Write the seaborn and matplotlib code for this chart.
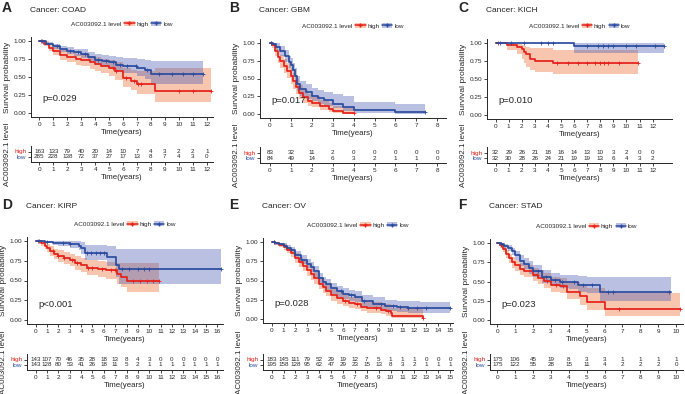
import numpy as np
import pandas as pd
import seaborn as sns
import matplotlib
matplotlib.use("Agg")
import matplotlib.pyplot as plt
from matplotlib.patches import Patch
from matplotlib.lines import Line2D
from matplotlib.transforms import blended_transform_factory

# Kaplan-Meier steps: (time, survival, lower CI, upper CI)
COAD_HIGH = [(0, 1.0, 1.0, 1.0), (0.3, 0.96, 0.93, 0.99), (0.7, 0.90, 0.86, 0.95),
             (1.0, 0.86, 0.80, 0.91), (1.5, 0.80, 0.74, 0.87), (2.0, 0.77, 0.70, 0.84),
             (2.6, 0.75, 0.67, 0.82), (3.0, 0.73, 0.65, 0.81), (3.6, 0.70, 0.61, 0.79),
             (4.0, 0.68, 0.58, 0.77), (4.4, 0.65, 0.55, 0.75), (5.0, 0.62, 0.51, 0.73),
             (5.4, 0.58, 0.46, 0.70), (6.0, 0.48, 0.36, 0.62), (6.6, 0.45, 0.32, 0.60),
             (7.0, 0.41, 0.27, 0.58), (8.3, 0.31, 0.15, 0.63), (12.3, 0.31, 0.15, 0.63)]
COAD_LOW = [(0, 1.0, 1.0, 1.0), (0.5, 0.96, 0.94, 0.98), (1.0, 0.92, 0.89, 0.95),
            (1.5, 0.89, 0.85, 0.93), (2.0, 0.86, 0.82, 0.91), (2.5, 0.84, 0.79, 0.89),
            (3.0, 0.82, 0.76, 0.88), (3.5, 0.78, 0.72, 0.85), (4.0, 0.74, 0.67, 0.82),
            (4.5, 0.72, 0.64, 0.80), (5.0, 0.70, 0.62, 0.79), (5.5, 0.67, 0.58, 0.77),
            (6.0, 0.65, 0.55, 0.76), (7.0, 0.63, 0.52, 0.75), (7.6, 0.59, 0.47, 0.73),
            (8.0, 0.54, 0.40, 0.72), (11.7, 0.54, 0.40, 0.72)]
GBM_HIGH = [(0, 1.0, 1.0, 1.0), (0.1, 0.96, 0.92, 1.0), (0.25, 0.88, 0.82, 0.95),
            (0.4, 0.80, 0.72, 0.88), (0.5, 0.74, 0.65, 0.83), (0.65, 0.67, 0.58, 0.77),
            (0.8, 0.61, 0.51, 0.71), (1.0, 0.53, 0.43, 0.64), (1.1, 0.46, 0.36, 0.57),
            (1.25, 0.38, 0.29, 0.49), (1.4, 0.30, 0.21, 0.41), (1.6, 0.24, 0.16, 0.34),
            (1.8, 0.19, 0.12, 0.29), (2.0, 0.16, 0.10, 0.25), (2.4, 0.12, 0.06, 0.20),
            (2.8, 0.08, 0.03, 0.16), (3.0, 0.05, 0.02, 0.12), (3.5, 0.025, 0.0, 0.09),
            (4.0, 0.025, 0.0, 0.09)]
GBM_LOW = [(0, 1.0, 1.0, 1.0), (0.15, 0.98, 0.95, 1.0), (0.3, 0.94, 0.89, 0.99),
           (0.5, 0.88, 0.82, 0.95), (0.7, 0.81, 0.73, 0.89), (0.9, 0.73, 0.64, 0.82),
           (1.0, 0.69, 0.60, 0.79), (1.1, 0.62, 0.52, 0.72), (1.2, 0.53, 0.43, 0.64),
           (1.3, 0.42, 0.32, 0.53), (1.45, 0.36, 0.26, 0.47), (1.7, 0.31, 0.22, 0.42),
           (2.0, 0.26, 0.18, 0.37), (2.3, 0.23, 0.15, 0.34), (2.6, 0.20, 0.12, 0.31),
           (3.0, 0.15, 0.09, 0.28), (3.5, 0.11, 0.05, 0.25), (4.0, 0.06, 0.02, 0.17),
           (6.0, 0.03, 0.0, 0.15), (7.4, 0.03, 0.0, 0.15)]
KICH_HIGH = [(0, 1.0, 1.0, 1.0), (0.9, 0.97, 0.90, 1.0), (1.6, 0.94, 0.84, 1.0),
             (2.0, 0.91, 0.78, 0.97), (2.2, 0.875, 0.72, 0.96), (2.35, 0.84, 0.67, 0.94),
             (2.6, 0.78, 0.63, 0.92), (3.0, 0.75, 0.60, 0.92), (4.4, 0.72, 0.57, 0.90),
             (10.9, 0.72, 0.57, 0.90)]
KICH_LOW = [(0, 1.0, 1.0, 1.0), (6.0, 0.95, 0.855, 0.99), (12.9, 0.95, 0.855, 0.99)]
KIRP_HIGH = [(0, 1.0, 1.0, 1.0), (0.5, 0.97, 0.94, 1.0), (0.8, 0.94, 0.90, 0.98),
             (1.0, 0.91, 0.86, 0.96), (1.3, 0.87, 0.81, 0.93), (1.6, 0.84, 0.77, 0.90),
             (2.0, 0.81, 0.74, 0.88), (2.5, 0.78, 0.71, 0.86), (3.0, 0.76, 0.68, 0.84),
             (3.5, 0.72, 0.63, 0.81), (4.0, 0.70, 0.61, 0.79), (4.5, 0.66, 0.57, 0.76),
             (5.5, 0.64, 0.54, 0.75), (6.2, 0.63, 0.52, 0.74), (7.2, 0.58, 0.46, 0.72),
             (7.5, 0.55, 0.42, 0.72), (8.0, 0.50, 0.35, 0.72), (10.9, 0.50, 0.35, 0.72)]
KIRP_LOW = [(0, 1.0, 1.0, 1.0), (0.8, 0.99, 0.97, 1.0), (1.5, 0.98, 0.95, 1.0),
            (2.0, 0.97, 0.93, 1.0), (3.0, 0.96, 0.91, 1.0), (3.8, 0.94, 0.88, 1.0),
            (4.0, 0.91, 0.83, 0.99), (4.3, 0.85, 0.76, 0.95), (6.3, 0.80, 0.68, 0.93),
            (7.1, 0.70, 0.55, 0.90), (7.3, 0.64, 0.45, 0.90), (16.3, 0.64, 0.45, 0.90)]
OV_HIGH = [(0, 1.0, 1.0, 1.0), (0.3, 0.98, 0.96, 1.0), (0.6, 0.96, 0.93, 0.99),
           (1.0, 0.93, 0.89, 0.97), (1.3, 0.90, 0.86, 0.94), (1.6, 0.86, 0.81, 0.91),
           (2.0, 0.79, 0.73, 0.85), (2.3, 0.74, 0.68, 0.81), (2.6, 0.69, 0.62, 0.76),
           (3.0, 0.63, 0.56, 0.70), (3.3, 0.58, 0.51, 0.66), (3.6, 0.53, 0.46, 0.61),
           (4.0, 0.46, 0.39, 0.54), (4.3, 0.41, 0.34, 0.49), (4.6, 0.37, 0.30, 0.45),
           (5.0, 0.31, 0.24, 0.39), (5.5, 0.27, 0.20, 0.35), (6.0, 0.24, 0.17, 0.32),
           (6.5, 0.21, 0.15, 0.29), (7.0, 0.20, 0.13, 0.28), (7.5, 0.16, 0.10, 0.24),
           (8.0, 0.14, 0.08, 0.22), (9.2, 0.12, 0.06, 0.21), (9.6, 0.10, 0.04, 0.19),
           (10.0, 0.08, 0.03, 0.18), (10.1, 0.045, 0.01, 0.15), (12.7, 0.01, 0.0, 0.12)]
OV_LOW = [(0, 1.0, 1.0, 1.0), (0.3, 0.98, 0.96, 1.0), (0.6, 0.97, 0.95, 0.99),
          (1.0, 0.95, 0.92, 0.98), (1.3, 0.92, 0.88, 0.96), (1.6, 0.89, 0.85, 0.93),
          (2.0, 0.83, 0.78, 0.88), (2.5, 0.77, 0.71, 0.83), (3.0, 0.72, 0.66, 0.78),
          (3.3, 0.67, 0.61, 0.74), (3.6, 0.62, 0.55, 0.69), (4.0, 0.53, 0.46, 0.60),
          (4.3, 0.48, 0.41, 0.55), (4.6, 0.45, 0.38, 0.52), (5.0, 0.40, 0.33, 0.47),
          (5.5, 0.36, 0.29, 0.43), (6.0, 0.33, 0.26, 0.40), (6.5, 0.31, 0.24, 0.38),
          (7.0, 0.29, 0.22, 0.36), (7.6, 0.23, 0.16, 0.31), (8.5, 0.20, 0.13, 0.28),
          (9.5, 0.17, 0.10, 0.25), (10.5, 0.155, 0.09, 0.24), (11.5, 0.145, 0.08, 0.23),
          (12.5, 0.14, 0.075, 0.22), (15.0, 0.14, 0.075, 0.22)]
STAD_HIGH = [(0, 1.0, 1.0, 1.0), (0.15, 0.97, 0.94, 1.0), (0.3, 0.92, 0.88, 0.96),
             (0.5, 0.86, 0.81, 0.91), (0.65, 0.80, 0.74, 0.86), (0.8, 0.75, 0.68, 0.82),
             (1.0, 0.71, 0.64, 0.78), (1.25, 0.665, 0.59, 0.74), (1.5, 0.635, 0.56, 0.72),
             (2.0, 0.59, 0.51, 0.68), (2.3, 0.55, 0.47, 0.65), (2.6, 0.51, 0.42, 0.61),
             (3.0, 0.45, 0.36, 0.56), (3.5, 0.44, 0.35, 0.55), (3.9, 0.37, 0.27, 0.50),
             (4.6, 0.31, 0.20, 0.46), (5.0, 0.235, 0.13, 0.42), (6.0, 0.15, 0.06, 0.35),
             (10.2, 0.15, 0.06, 0.35)]
STAD_LOW = [(0, 1.0, 1.0, 1.0), (0.2, 0.99, 0.97, 1.0), (0.4, 0.96, 0.93, 0.99),
            (0.6, 0.93, 0.89, 0.97), (0.8, 0.89, 0.84, 0.94), (1.0, 0.84, 0.78, 0.90),
            (1.25, 0.77, 0.70, 0.84), (1.5, 0.73, 0.66, 0.80), (1.75, 0.68, 0.60, 0.76),
            (2.0, 0.635, 0.56, 0.72), (2.5, 0.56, 0.48, 0.65), (3.0, 0.52, 0.44, 0.61),
            (3.5, 0.50, 0.41, 0.59), (4.0, 0.49, 0.40, 0.58), (4.5, 0.46, 0.37, 0.57),
            (5.0, 0.45, 0.35, 0.56), (5.75, 0.37, 0.25, 0.56), (9.7, 0.37, 0.25, 0.56)]

# censor marks (times)
COAD_HIGH_CENS = [0.1, 5.3, 5.5, 6.2, 6.8, 7.1, 7.3, 10.0, 11.0, 12.3]
COAD_LOW_CENS = [0.2, 1.3, 2.2, 2.8, 3.3, 4.2, 4.8, 5.3, 5.8, 6.3, 6.9, 7.7, 8.6, 9.5, 10.3, 11.0, 11.7]
GBM_HIGH_CENS = [0.05, 4.0]
GBM_LOW_CENS = [0.05, 7.4]
KICH_HIGH_CENS = [0.2, 4.7, 5.5, 6.3, 7.0, 7.6, 8.0, 8.3, 8.6, 9.4, 10.9]
KICH_LOW_CENS = [0.3, 1.2, 2.2, 3.5, 4.0, 4.4, 7.0, 7.8, 8.2, 8.6, 9.0, 10.0, 10.7, 12.2, 12.9]
KIRP_HIGH_CENS = [0.2, 1.5, 2.0, 2.5, 3.2, 3.6, 4.6, 5.0, 5.8, 6.6, 7.0, 8.6, 9.2, 9.8, 10.3, 10.9]
KIRP_LOW_CENS = [0.3, 1.0, 2.4, 3.0, 4.5, 4.9, 5.3, 5.7, 6.0, 7.6, 8.2, 9.0, 9.5, 10.0, 16.3]
OV_HIGH_CENS = [0.2, 6.2, 7.2, 8.8, 9.8, 12.7]
OV_LOW_CENS = [0.2, 5.8, 6.7, 7.8, 9.2, 10.2, 10.8, 11.5, 12.2, 13.0, 15.0]
STAD_HIGH_CENS = [0.2, 2.2, 2.8, 3.3, 3.7, 6.8, 10.2]
STAD_LOW_CENS = [0.2, 2.3, 2.7, 3.2, 3.6, 4.3, 4.8, 5.3, 6.2, 6.5, 9.6]

# numbers at risk, one per year from 0
RISK_COAD_HIGH = [163, 133, 79, 40, 20, 14, 10, 7, 4, 3, 2, 2, 1]
RISK_COAD_LOW = [285, 228, 138, 72, 37, 27, 17, 13, 8, 7, 4, 3, 0]
RISK_GBM_HIGH = [83, 32, 11, 2, 0, 0, 0, 0, 0]
RISK_GBM_LOW = [84, 49, 14, 6, 3, 2, 1, 1, 0]
RISK_KICH_HIGH = [32, 29, 26, 21, 18, 16, 14, 13, 10, 3, 2, 0, 0]
RISK_KICH_LOW = [32, 30, 28, 26, 24, 21, 19, 19, 13, 6, 4, 3, 2]
RISK_KIRP_HIGH = [143, 107, 70, 46, 35, 28, 18, 13, 8, 4, 3, 0, 0, 0, 0, 0, 0]
RISK_KIRP_LOW = [143, 128, 80, 53, 41, 26, 18, 11, 5, 2, 1, 1, 1, 1, 1, 1, 1]
RISK_OV_HIGH = [183, 145, 111, 79, 52, 29, 19, 12, 7, 5, 1, 1, 1, 0, 0, 0]
RISK_OV_LOW = [195, 158, 128, 95, 62, 47, 29, 23, 15, 13, 8, 3, 2, 1, 1, 1]
RISK_STAD_HIGH = [175, 106, 45, 19, 8, 3, 3, 1, 1, 1, 1]
RISK_STAD_LOW = [175, 122, 55, 28, 15, 11, 4, 2, 2, 2, 0]

LETTERS = ['A', 'B', 'C', 'D', 'E', 'F']
CANCERS = ['COAD', 'GBM', 'KICH', 'KIRP', 'OV', 'STAD']
PVALUES = ['p=0.029', 'p=0.017', 'p=0.010', 'p<0.001', 'p=0.028', 'p=0.023']

sns.set_style("ticks")
plt.rcParams['font.family'] = ['Liberation Sans', 'DejaVu Sans']

HIGH_COL = '#E5211B'
LOW_COL = '#2B4C9E'
HIGH_FILL = '#EE6A2E'
LOW_FILL = '#4A5BB5'

W, H = 685, 394
fig = plt.figure(figsize=(W / 100, H / 100), dpi=100)


def box(l, t, r, b):
    return [l / W, 1 - b / H, (r - l) / W, (b - t) / H]


def surv_at(knots, t):
    ts = [k[0] for k in knots]
    i = np.searchsorted(ts, t, side='right') - 1
    return knots[max(i, 0)][1]


# layout in pixels: panel origin, KM box, risk box, x limits
layout = [
    dict(o=(0, 0), km=(31, 37, 213, 117), risk=(31, 146, 213, 162), xlim=(-0.6, 12.45), xmax=12),
    dict(o=(227, 0), km=(260, 39, 446, 118), risk=(260, 147, 446, 163), xlim=(-0.48, 8.42), xmax=8),
    dict(o=(456, 0), km=(487, 39, 672, 119), risk=(487, 147, 672, 163), xlim=(-0.66, 13.48), xmax=12),
    dict(o=(0, 197), km=(27, 237, 223, 324), risk=(27, 354, 223, 370), xlim=(-0.77, 16.5), xmax=16),
    dict(o=(227, 197), km=(263, 238, 453, 323), risk=(263, 354, 453, 370), xlim=(-0.73, 15.25), xmax=15),
    dict(o=(456, 197), km=(490, 239, 683, 324), risk=(490, 354, 683, 370), xlim=(-0.41, 10.39), xmax=10),
]
curves = [(COAD_HIGH, COAD_LOW), (GBM_HIGH, GBM_LOW), (KICH_HIGH, KICH_LOW),
          (KIRP_HIGH, KIRP_LOW), (OV_HIGH, OV_LOW), (STAD_HIGH, STAD_LOW)]
censors = [(COAD_HIGH_CENS, COAD_LOW_CENS), (GBM_HIGH_CENS, GBM_LOW_CENS),
           (KICH_HIGH_CENS, KICH_LOW_CENS), (KIRP_HIGH_CENS, KIRP_LOW_CENS),
           (OV_HIGH_CENS, OV_LOW_CENS), (STAD_HIGH_CENS, STAD_LOW_CENS)]
risks = [(RISK_COAD_HIGH, RISK_COAD_LOW), (RISK_GBM_HIGH, RISK_GBM_LOW),
         (RISK_KICH_HIGH, RISK_KICH_LOW), (RISK_KIRP_HIGH, RISK_KIRP_LOW),
         (RISK_OV_HIGH, RISK_OV_LOW), (RISK_STAD_HIGH, RISK_STAD_LOW)]

TICK = 4.6
for k, lay in enumerate(layout):
    ox, oy = lay['o']
    l, t, r, b = lay['km']
    ax = fig.add_axes(box(l, t, r, b))
    for knots, cens, col, fill in [(curves[k][0], censors[k][0], HIGH_COL, HIGH_FILL),
                                   (curves[k][1], censors[k][1], LOW_COL, LOW_FILL)]:
        df = pd.DataFrame(knots, columns=['time', 'surv', 'lower', 'upper'])
        ax.fill_between(df['time'], df['lower'], df['upper'], step='post',
                        color=fill, alpha=0.38, lw=0)
        sns.lineplot(data=df, x='time', y='surv', drawstyle='steps-post', estimator=None,
                     color=col, lw=1.25, ax=ax)
        ax.plot(cens, [surv_at(knots, c) for c in cens], ls='none', marker='+',
                ms=3, mew=0.6, color=col)
    ax.set_xlim(*lay['xlim'])
    ax.set_ylim(-0.05, 1.05)
    ax.set_xticks(range(0, lay['xmax'] + 1))
    ax.set_yticks([0, 0.25, 0.5, 0.75, 1.0])
    ax.set_yticklabels(['0.00', '0.25', '0.50', '0.75', '1.00'])
    ax.tick_params(labelsize=TICK, length=2, width=0.6, pad=1.5)
    ax.set_xlabel('Time(years)', fontsize=5.7, labelpad=1.5)
    ax.set_ylabel('Survival probability', fontsize=6, labelpad=2)
    sns.despine(ax=ax)
    for s in ['left', 'bottom']:
        ax.spines[s].set_linewidth(0.7)
    ax.text(0.06, 0.2, PVALUES[k], fontsize=6.8, ha='left', va='center',
            transform=blended_transform_factory(ax.transAxes, ax.transData))

    # legend above the KM plot
    handles = [Patch(fc='none', ec='none'),
               (Patch(fc=HIGH_FILL, alpha=0.38, lw=0), Line2D([], [], color=HIGH_COL, lw=1.1, marker='+', ms=3)),
               (Patch(fc=LOW_FILL, alpha=0.38, lw=0), Line2D([], [], color=LOW_COL, lw=1.1, marker='+', ms=3))]
    cx = ((l + r) / 2 - 6) / W
    cy = 1 - (t - 13) / H
    ax.legend(handles, ['AC003092.1 level', 'high', 'low'], ncol=3, loc='center',
              bbox_to_anchor=(cx, cy), bbox_transform=fig.transFigure, frameon=False,
              fontsize=4.6, handlelength=1.6, handletextpad=0.3, columnspacing=0.4,
              borderpad=0, borderaxespad=0)

    fig.text((ox + 2) / W, 1 - (oy + 8) / H, LETTERS[k], fontsize=10, fontweight='bold',
             ha='left', va='center')
    fig.text((l - 1) / W, 1 - (oy + 10) / H, 'Cancer: ' + CANCERS[k], fontsize=6,
             ha='left', va='center')

    # risk table
    l2, t2, r2, b2 = lay['risk']
    rax = fig.add_axes(box(l2, t2, r2, b2))
    rax.set_xlim(*lay['xlim'])
    rax.set_ylim(0, 16)
    yrs = list(range(0, lay['xmax'] + 1))
    for n_hi, n_lo, yr in zip(risks[k][0], risks[k][1], yrs):
        rax.text(yr, 10.5, str(n_hi), ha='center', va='center', fontsize=4.5)
        rax.text(yr, 5, str(n_lo), ha='center', va='center', fontsize=4.5)
    rax.set_xticks(yrs)
    rax.set_yticks([5, 10.5])
    rax.set_yticklabels(['low', 'high'])
    for lbl, c in zip(rax.get_yticklabels(), [LOW_COL, HIGH_COL]):
        lbl.set_color(c)
    rax.tick_params(labelsize=TICK, length=2, width=0.6, pad=1.5)
    rax.set_xlabel('Time(years)', fontsize=5.7, labelpad=1.5)
    rax.set_ylabel('AC003092.1 level', fontsize=5.8, labelpad=2)
    sns.despine(ax=rax)
    for s in ['left', 'bottom']:
        rax.spines[s].set_linewidth(0.7)

fig.savefig('out.png', dpi=100)
